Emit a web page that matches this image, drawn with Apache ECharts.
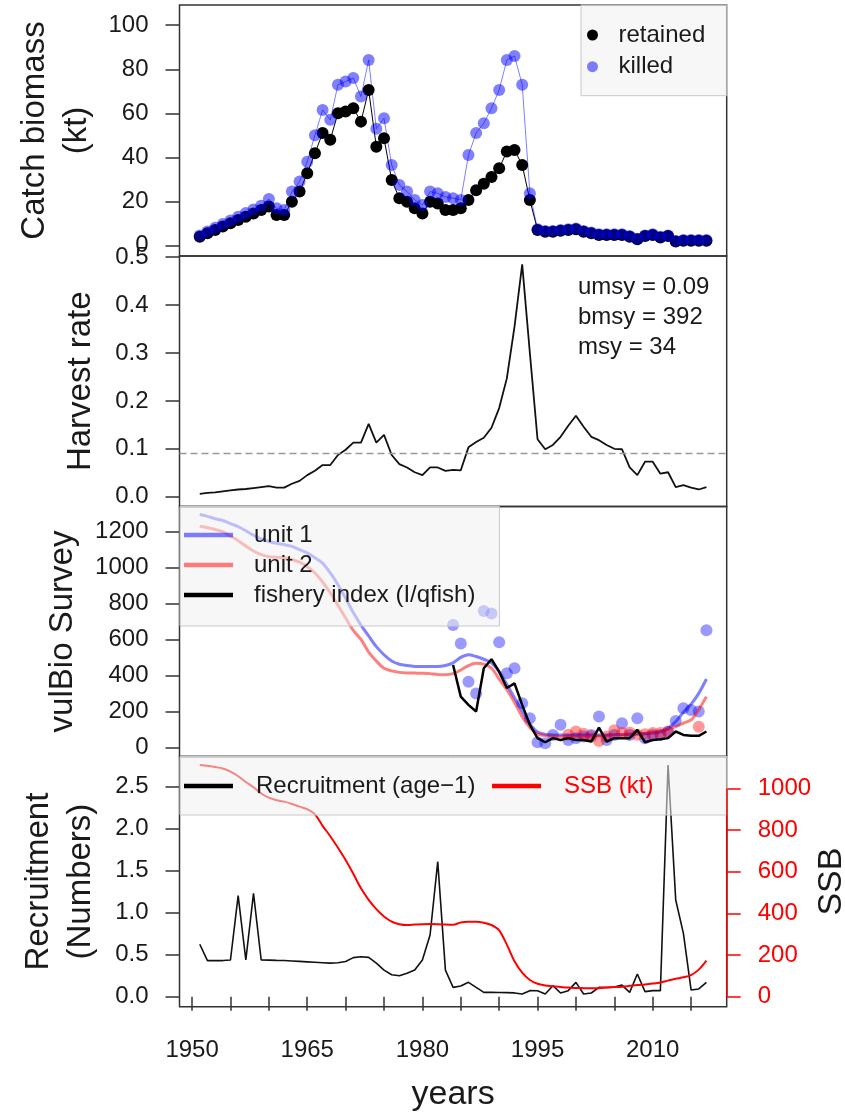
<!DOCTYPE html>
<html>
<head>
<meta charset="utf-8">
<script src="https://cdn.jsdelivr.net/npm/echarts@6/dist/echarts.min.js"></script>
<style>
  html, body { margin: 0; padding: 0; background: #fff; }
  #chart { width: 845px; height: 1114px; }
</style>
</head>
<body>
<div id="chart"></div>
<script>
const years = [1951, 1952, 1953, 1954, 1955, 1956, 1957, 1958, 1959, 1960,
  1961, 1962, 1963, 1964, 1965, 1966, 1967, 1968, 1969, 1970,
  1971, 1972, 1973, 1974, 1975, 1976, 1977, 1978, 1979, 1980,
  1981, 1982, 1983, 1984, 1985, 1986, 1987, 1988, 1989, 1990,
  1991, 1992, 1993, 1994, 1995, 1996, 1997, 1998, 1999, 2000,
  2001, 2002, 2003, 2004, 2005, 2006, 2007, 2008, 2009, 2010,
  2011, 2012, 2013, 2014, 2015, 2016, 2017];

// catch biomass (kt)
const retained = [3.9, 5.5, 7, 8.5, 10, 11.5, 13, 14.5, 16, 17.6,
  13.8, 13.8, 19.8, 24.4, 32.7, 41.8, 51, 48, 60, 60.8,
  62.3, 56.2, 70.6, 44.8, 48.6, 29.7, 21.4, 19.8, 16.8, 14.5,
  19.8, 19, 16, 16, 16.8, 20.6, 25, 28, 31, 35,
  42.6, 43.3, 36.5, 20.6, 7, 6.2, 6.2, 6.6, 7, 7.3,
  6.2, 5.5, 4.7, 4.7, 4.7, 4.7, 3.9, 2.7, 4.2, 4.7,
  3.6, 4.2, 1.7, 2.1, 2.1, 2.1, 2.1];
const killed = [4.5, 6.3, 8, 9.7, 11.3, 13, 14.7, 16.3, 18, 21,
  16.8, 16, 24.4, 29, 38, 50, 61.5, 57, 73, 74.4,
  76, 67.6, 84.2, 53, 57.7, 36.5, 27.4, 24.4, 20.6, 18.3,
  24.4, 23.6, 22, 21.4, 20.6, 41, 51, 55.5, 62.3, 70.6,
  84.2, 86, 73, 23.6, 7.3, 6.5, 6.5, 6.9, 7.3, 7.6,
  6.5, 5.8, 5, 5, 5, 5, 4.2, 3, 4.5, 5,
  3.9, 4.5, 2, 2.4, 2.4, 2.4, 2.4];

// harvest rate
const harvest = [0.006, 0.008, 0.009, 0.011, 0.013, 0.015, 0.016, 0.018, 0.020, 0.022,
  0.019, 0.019, 0.027, 0.033, 0.045, 0.054, 0.066, 0.066, 0.087, 0.098,
  0.113, 0.113, 0.152, 0.113, 0.129, 0.087, 0.068, 0.061, 0.051, 0.045,
  0.061, 0.061, 0.054, 0.056, 0.055, 0.103, 0.114, 0.123, 0.144, 0.185,
  0.247, 0.355, 0.485, 0.300, 0.120, 0.099, 0.108, 0.125, 0.148, 0.169,
  0.146, 0.125, 0.118, 0.108, 0.100, 0.099, 0.061, 0.045, 0.073, 0.073,
  0.048, 0.051, 0.020, 0.024, 0.019, 0.015, 0.020];
const umsy = 0.094;
const refText = ['umsy = 0.09', 'bmsy = 392', 'msy = 34'];

// vulnerable biomass
const unit1 = [1295, 1285, 1272, 1262, 1245, 1228, 1205, 1180, 1160, 1145,
  1135, 1128, 1118, 1100, 1082, 1055, 1025, 970, 905, 830,
  750, 680, 620, 560, 515, 480, 462, 455, 450, 449,
  449, 449, 455, 470, 500, 515, 505, 490, 470, 420,
  350, 275, 200, 130, 85, 72, 69, 68, 68, 68,
  68, 68, 68, 69, 70, 70, 72, 74, 76, 80,
  86, 105, 143, 195, 240, 300, 380];
const unit2 = [1230, 1222, 1212, 1200, 1175, 1150, 1120, 1092, 1072, 1060,
  1057, 1055, 1045, 1030, 1005, 970, 920, 860, 790, 720,
  650, 600, 530, 480, 440, 425, 417, 414, 413, 412,
  410, 405, 404, 410, 430, 455, 468, 463, 440, 380,
  320, 250, 170, 110, 75, 65, 62, 60, 60, 60,
  61, 62, 63, 65, 67, 70, 72, 75, 78, 82,
  88, 100, 115, 135, 152, 210, 282];
const fishery = [null, null, null, null, null, null, null, null, null, null,
  null, null, null, null, null, null, null, null, null, null,
  null, null, null, null, null, null, null, null, null, null,
  null, null, null, 458, 282, 236, 199, 440, 490, 421,
  330, 356, 236, 125, 51, 28, 51, 41, 51, 41,
  41, 32, 110, 32, 51, 51, 51, 97, 28, 41,
  45, 51, 88, 69, 64, 64, 88];
const survey1 = [null, null, null, null, null, null, null, null, null, null,
  null, null, null, null, null, null, null, null, null, null,
  null, null, null, null, null, null, null, null, null, null,
  null, null, null, 680, 578, 365, 300, 758, 745, 584,
  412, 440, 245, 161, 28, 22, 69, 125, 41, 51,
  60, 69, 171, 41, 69, 134, 69, 161, 51, 69,
  69, 88, 147, 217, 208, 199, 652];
const survey2 = [null, null, null, null, null, null, null, null, null, null,
  null, null, null, null, null, null, null, null, null, null,
  null, null, null, null, null, null, null, null, null, null,
  null, null, null, null, null, null, null, null, null, null,
  null, null, null, null, null, null, null, null, 70, 88,
  75, 60, 35, 60, 95, 80, 82, 70, 72, 80,
  80, 85, null, null, null, 115, null];

// recruitment and spawning biomass
const recruits = [0.624, 0.43, 0.43, 0.43, 0.437, 1.202, 0.437, 1.23, 0.437, 0.435,
  0.432, 0.43, 0.425, 0.42, 0.415, 0.41, 0.405, 0.40, 0.405, 0.42,
  0.465, 0.475, 0.468, 0.40, 0.317, 0.262, 0.25, 0.278, 0.317, 0.437,
  0.734, 1.607, 0.317, 0.111, 0.127, 0.171, 0.111, 0.052, 0.052, 0.05,
  0.048, 0.045, 0.032, 0.072, 0.07, 0.032, 0.131, 0.044, 0.072, 0.171,
  0.032, 0.044, 0.111, 0.11, 0.115, 0.138, 0.052, 0.27, 0.06, 0.072,
  0.072, 2.758, 1.151, 0.754, 0.08, 0.092, 0.171];
const ssb = [1112, 1108, 1102, 1095, 1080, 1058, 1030, 1005, 975, 955,
  943, 936, 925, 912, 900, 875, 820, 770, 715, 656,
  590, 520, 465, 420, 385, 360, 348, 344, 346, 348,
  349, 348, 346, 345, 356, 360, 360, 355, 344, 318,
  250, 170, 115, 80, 62, 54, 50, 46, 44, 42,
  41, 40, 41, 44, 46, 48, 52, 56, 59, 63,
  68, 77, 86, 93, 104, 130, 173];

// tick values
const yearTicks = [1950, 1955, 1960, 1965, 1970, 1975, 1980, 1985, 1990, 1995, 2000, 2005, 2010, 2015];
const yearLabels = [1950, 1965, 1980, 1995, 2010];
const catchTicks = [0, 20, 40, 60, 80, 100];
const harvestTicks = [0, 0.1, 0.2, 0.3, 0.4, 0.5];
const surveyTicks = [0, 200, 400, 600, 800, 1000, 1200];
const recruitTicks = [0, 0.5, 1, 1.5, 2, 2.5];
const ssbTicks = [0, 200, 400, 600, 800, 1000];

const X_MIN = 1948.36, X_MAX = 2019.64;

function pairs(arr) {
  return years.map(function (y, i) { return [y, arr[i]]; });
}
function points(arr) {
  return pairs(arr).filter(function (p) { return p[1] != null; });
}

const FONT = 'Liberation Sans, Arial, sans-serif';
const INK = '#1a1a1a';
const BOX = '#333';
const LEFT = 179.5, RIGHT = 118.3;

const plain = function (v) { return String(v); };
const oneDec = function (v) { return v.toFixed(1); };

const chart = echarts.init(document.getElementById('chart'));

function xAx(i, bottom) {
  return {
    type: 'value', gridIndex: i, min: X_MIN, max: X_MAX,
    splitLine: { show: false },
    axisLine: { show: false },
    axisTick: bottom ? { customValues: yearTicks, length: 14, lineStyle: { color: BOX, width: 1.5 } } : { show: false },
    axisLabel: bottom ? { customValues: yearLabels, margin: 32, fontSize: 24, color: INK, fontFamily: FONT, formatter: plain } : { show: false },
    name: bottom ? 'years' : '',
    nameLocation: 'middle',
    nameGap: 71,
    nameTextStyle: { fontSize: 34, color: INK, fontFamily: FONT }
  };
}
function yAx(i, min, max, ticks, name, fmt) {
  return {
    type: 'value', gridIndex: i, min: min, max: max,
    splitLine: { show: false },
    axisLine: { show: false },
    axisTick: { customValues: ticks, length: 14, lineStyle: { color: BOX, width: 1.5 } },
    axisLabel: { customValues: ticks, margin: 31, fontSize: 24, color: INK, fontFamily: FONT, formatter: fmt || plain },
    name: name,
    nameLocation: 'middle',
    nameRotate: 90,
    nameGap: 78,
    nameTextStyle: { fontSize: 33, lineHeight: 42, color: INK, fontFamily: FONT }
  };
}

const option = {
  animation: false,
  backgroundColor: '#fff',
  title: {
    text: refText.join('\n'),
    left: 578, top: 272, padding: 0,
    textStyle: { fontSize: 24, fontWeight: 'normal', lineHeight: 30, color: INK, fontFamily: FONT }
  },
  grid: [
    { left: LEFT, right: RIGHT, top: 5, height: 251 },
    { left: LEFT, right: RIGHT, top: 256, height: 250.5 },
    { left: LEFT, right: RIGHT, top: 506.5, height: 250 },
    { left: LEFT, right: RIGHT, top: 756.5, height: 250.2 }
  ].map(function (g) {
    return Object.assign(g, {
      show: true, borderColor: BOX, borderWidth: 1.5, backgroundColor: 'transparent',
      containLabel: false, outerBoundsMode: 'none'
    });
  }),
  xAxis: [xAx(0, false), xAx(1, false), xAx(2, false), xAx(3, true)],
  yAxis: [
    yAx(0, -4.86, 109.2, catchTicks, 'Catch biomass\n(kt)'),
    yAx(1, -0.0205, 0.5025, harvestTicks, 'Harvest rate', oneDec),
    yAx(2, -51.2, 1340, surveyTicks, 'vulBio Survey'),
    yAx(3, -0.119, 2.859, recruitTicks, 'Recruitment\n(Numbers)', oneDec),
    {
      type: 'value', gridIndex: 3, position: 'right', min: -48, max: 1152.6,
      splitLine: { show: false },
      axisLine: { show: false },
      axisTick: { customValues: ssbTicks, length: 14, lineStyle: { color: '#ff0000', width: 1.5 } },
      axisLabel: { customValues: ssbTicks, margin: 31, fontSize: 24, color: '#ff0000', fontFamily: FONT, formatter: plain },
      name: 'SSB', nameLocation: 'middle', nameRotate: 90, nameGap: 88, nameMoveOverlap: false,
      nameTextStyle: { fontSize: 34, color: INK, fontFamily: FONT }
    }
  ],
  legend: [
    {
      data: ['retained', 'killed'], selectedMode: false,
      orient: 'vertical', left: 581, top: 5, padding: [18, 22, 17, 6],
      itemGap: 7.7, icon: 'circle', itemWidth: 24, itemHeight: 11,
      itemStyle: { borderWidth: 0 },
      backgroundColor: 'rgba(240,240,240,0.55)', borderColor: '#c8c8c8', borderWidth: 1,
      textStyle: { fontSize: 24, lineHeight: 24, color: INK, fontFamily: FONT, padding: [0, 0, 0, 9] }
    },
    {
      data: ['unit 1', 'unit 2', 'fishery index (I/qfish)'], selectedMode: false,
      orient: 'vertical', left: 180, top: 506.5, padding: [16.5, 24, 19, 4],
      itemGap: 6, icon: 'rect', itemWidth: 49, itemHeight: 4.5,
      itemStyle: { borderWidth: 0 },
      backgroundColor: 'rgba(240,240,240,0.55)', borderColor: '#c8c8c8', borderWidth: 1,
      textStyle: { fontSize: 24, lineHeight: 24, color: INK, fontFamily: FONT, padding: [0, 0, 0, 16] }
    },
    {
      data: ['Recruitment (age\u22121)', { name: 'SSB (kt)', textStyle: { color: '#ff0000' } }], selectedMode: false,
      orient: 'horizontal', left: 180, top: 756.5, padding: [17.5, 74, 17, 4],
      itemGap: 16.6, icon: 'rect', itemWidth: 49, itemHeight: 4.5,
      itemStyle: { borderWidth: 0 },
      backgroundColor: 'rgba(240,240,240,0.55)', borderColor: '#c8c8c8', borderWidth: 1,
      textStyle: { fontSize: 24, lineHeight: 24, color: INK, fontFamily: FONT, padding: [0, 0, 0, 18] }
    }
  ],
  series: [
    {
      name: 'retained', type: 'line', xAxisIndex: 0, yAxisIndex: 0, data: pairs(retained),
      symbol: 'circle', symbolSize: 12, color: '#000',
      itemStyle: { color: '#000', borderWidth: 0 }, lineStyle: { color: '#000', width: 1 }
    },
    {
      name: 'killed', type: 'line', xAxisIndex: 0, yAxisIndex: 0, data: pairs(killed),
      symbol: 'circle', symbolSize: 12, color: 'rgba(0,0,255,0.5)',
      itemStyle: { color: 'rgba(0,0,255,0.5)', borderWidth: 0 }, lineStyle: { color: 'rgba(0,0,255,0.5)', width: 1 }
    },
    {
      name: 'harvest', type: 'line', xAxisIndex: 1, yAxisIndex: 1, data: pairs(harvest),
      symbol: 'none', color: '#111', lineStyle: { color: '#111', width: 1.8 },
      markLine: {
        silent: true, symbol: 'none', label: { show: false },
        lineStyle: { color: '#999', type: [7, 4], width: 1.3 },
        data: [{ yAxis: umsy }]
      }
    },
    {
      name: 'unit 1', type: 'line', xAxisIndex: 2, yAxisIndex: 2, data: pairs(unit1),
      symbol: 'none', smooth: 0.3, color: 'rgba(0,0,255,0.5)',
      lineStyle: { color: 'rgba(0,0,255,0.5)', width: 3 }
    },
    {
      name: 'unit 2', type: 'line', xAxisIndex: 2, yAxisIndex: 2, data: pairs(unit2),
      symbol: 'none', smooth: 0.3, color: 'rgba(255,0,0,0.5)',
      lineStyle: { color: 'rgba(255,0,0,0.5)', width: 3 }
    },
    {
      name: 'fishery index (I/qfish)', type: 'line', xAxisIndex: 2, yAxisIndex: 2, data: pairs(fishery),
      symbol: 'none', color: '#000', lineStyle: { color: '#000', width: 2.5 }
    },
    {
      name: 'survey unit 1', type: 'scatter', xAxisIndex: 2, yAxisIndex: 2, data: points(survey1),
      symbolSize: 12, itemStyle: { color: 'rgba(0,0,255,0.5)' }
    },
    {
      name: 'survey unit 2', type: 'scatter', xAxisIndex: 2, yAxisIndex: 2, data: points(survey2),
      symbolSize: 12, itemStyle: { color: 'rgba(255,0,0,0.5)' }
    },
    {
      name: 'Recruitment (age\u22121)', type: 'line', xAxisIndex: 3, yAxisIndex: 3, data: pairs(recruits),
      symbol: 'none', color: '#000', lineStyle: { color: '#111', width: 1.6 }
    },
    {
      name: 'SSB (kt)', type: 'line', xAxisIndex: 3, yAxisIndex: 4, data: pairs(ssb),
      symbol: 'none', smooth: 0.3, color: '#ff0000', lineStyle: { color: '#ff0000', width: 2 },
      // red axis line of the SSB scale, drawn from its first to its last tick like R does
      markLine: {
        silent: true, symbol: 'none', label: { show: false },
        lineStyle: { color: '#ff0000', type: 'solid', width: 1.5 },
        data: [[{ coord: [X_MAX, ssbTicks[0]] }, { coord: [X_MAX, ssbTicks[ssbTicks.length - 1]] }]]
      }
    }
  ]
};

chart.setOption(option);
</script>
</body>
</html>
